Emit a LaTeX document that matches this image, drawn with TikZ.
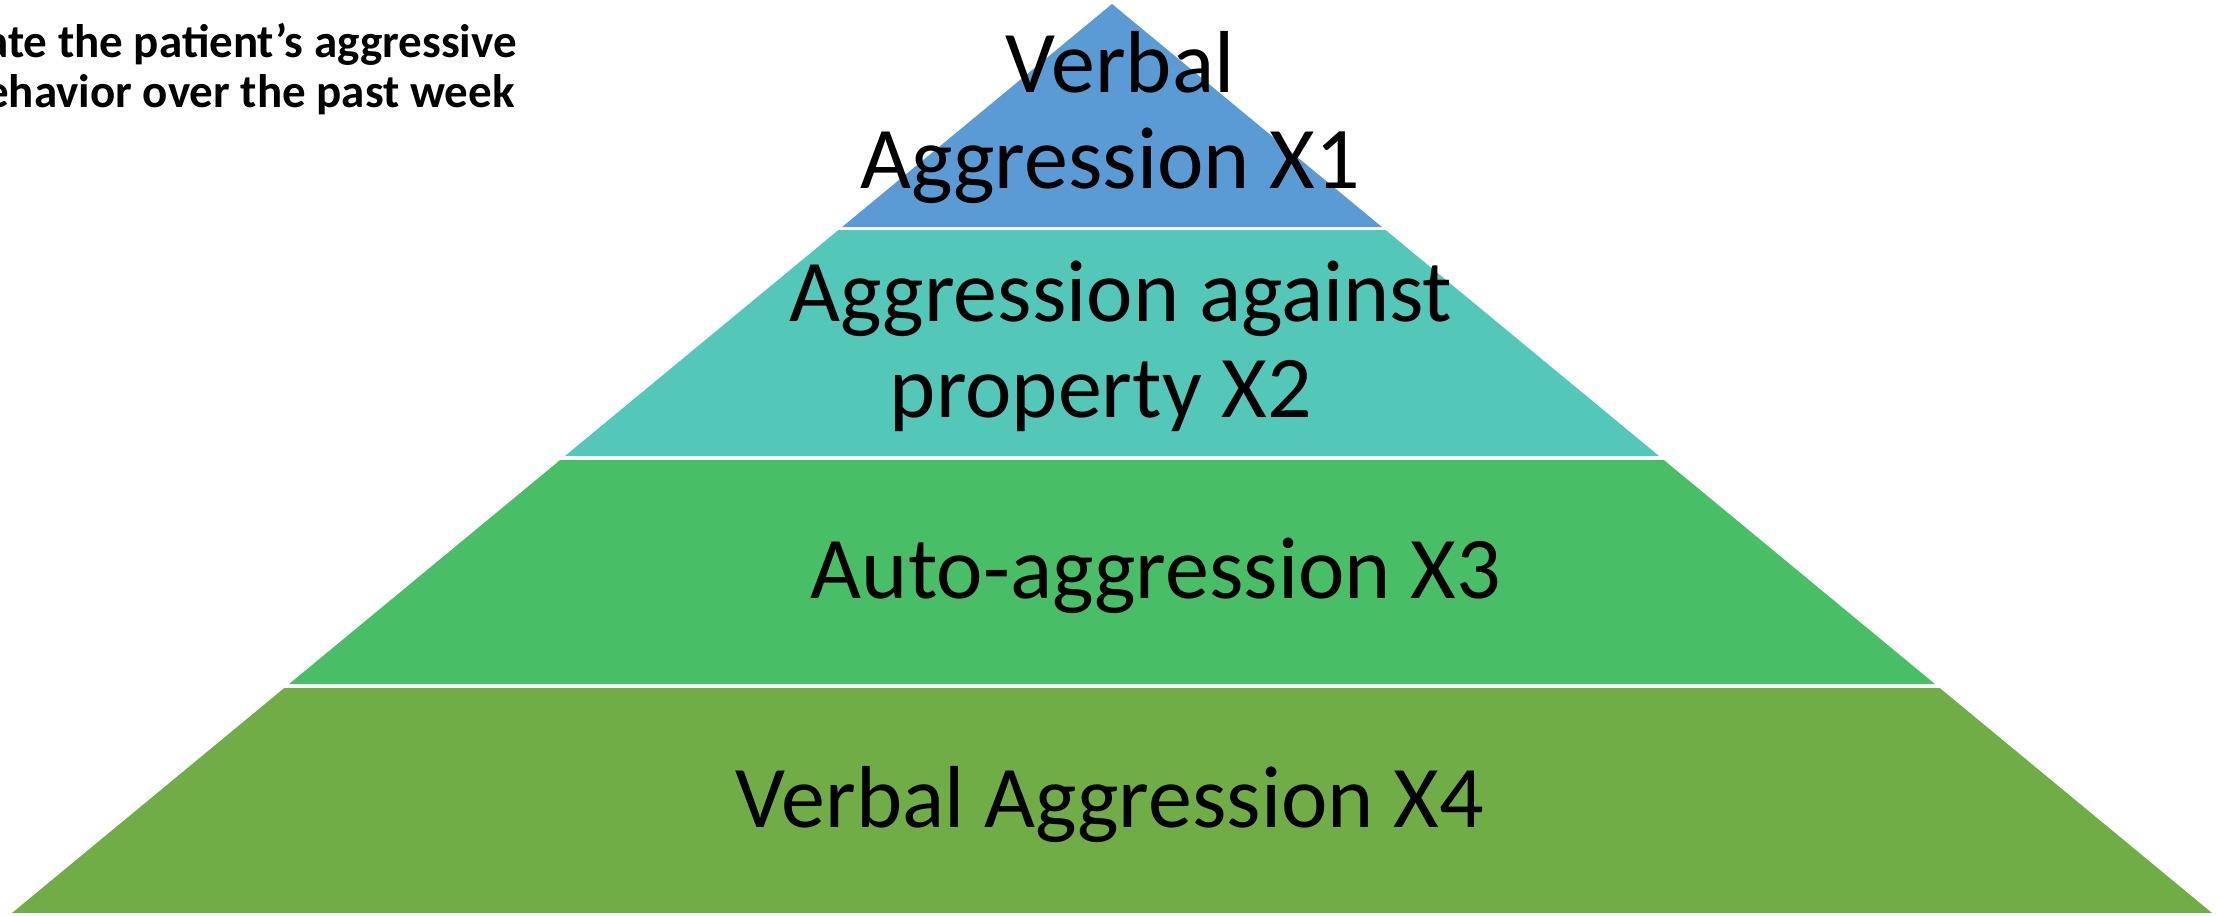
\documentclass[tikz,border=0pt]{standalone}
\usepackage{fontspec}
\setmainfont{Carlito}
\definecolor{cA}{HTML}{5B9BD5}
\definecolor{cB}{HTML}{53C8B8}
\definecolor{cC}{HTML}{48BF66}
\definecolor{cD}{HTML}{70AD47}
\begin{document}
\begin{tikzpicture}[x=1pt,y=-1pt,
  lbl/.style={font=\fontsize{88}{95}\selectfont, inner sep=0pt, anchor=base, text=black},
  ttl/.style={font=\fontsize{47}{50}\selectfont\bfseries, inner sep=0pt, anchor=base east, text=black},
  layer/.style={draw=none}]
\useasboundingbox (0,0) rectangle (2223,915);
\clip (0,0) rectangle (2223,915);
% pyramid layers
\fill[layer, cA] (1112,4) -- (1381.9,227) -- (842.1,227) -- cycle;
\fill[layer, cB] (838.5,230) -- (1385.5,230) -- (1659,456) -- (565,456) -- cycle;
\fill[layer, cC] (560.2,460) -- (1663.8,460) -- (1934.9,684) -- (289.1,684) -- cycle;
\fill[layer, cD] (284.3,688) -- (1939.7,688) -- (2212,913) -- (12,913) -- cycle;
% labels
\node[lbl] (x1a) at (1120,93) {Verbal};
\node[lbl] (x1b) at (1110,188) {Aggression X1};
\node[lbl] (x2a) at (1121,321) {Aggression against};
\node[lbl] (x2b) at (1101,417) {property X2};
\node[lbl] (x3) at (1156,598) {Auto-aggression X3};
\node[lbl] (x4) at (1110,827) {Verbal Aggression X4};
% title (cut at the left edge)
\node[ttl] (t1) at (517,58) {ate the patient’s aggressive};
\node[ttl] (t2) at (515,108) {ehavior over the past week};
\end{tikzpicture}
\end{document}
